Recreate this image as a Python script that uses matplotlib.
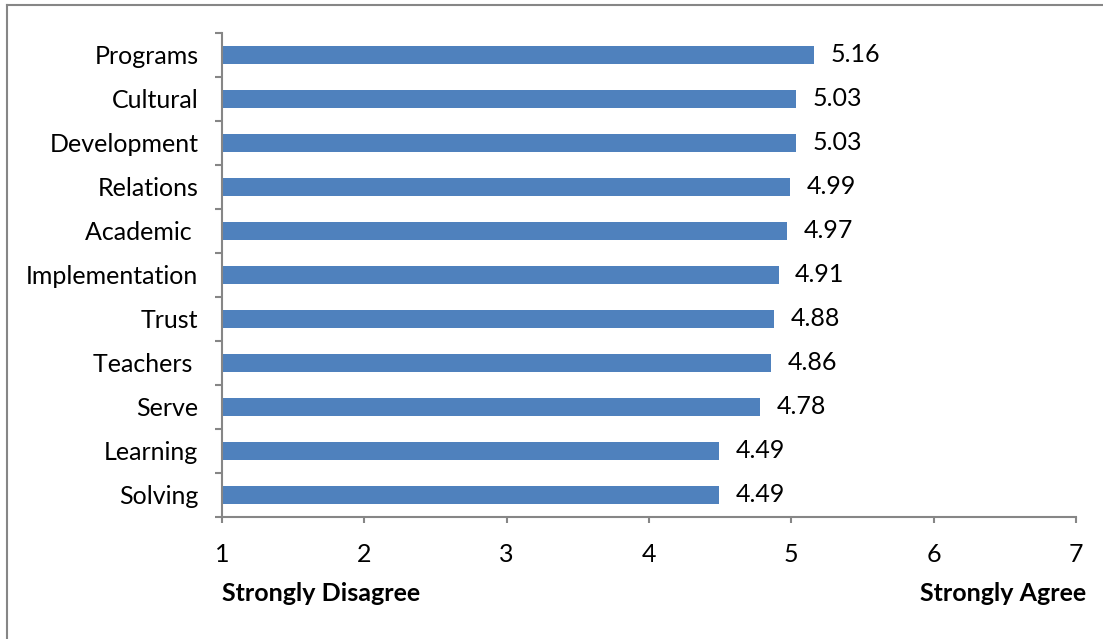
import matplotlib
matplotlib.use("Agg")
import matplotlib.pyplot as plt
from matplotlib.lines import Line2D

categories = ["Programs", "Cultural", "Development", "Relations", "Academic ",
              "Implementation", "Trust", "Teachers ", "Serve", "Learning", "Solving"]
values = [5.16, 5.03, 5.03, 4.99, 4.97, 4.91, 4.88, 4.86, 4.78, 4.49, 4.49]
value_labels = ["5.16", "5.03", "5.03", "4.99", "4.97", "4.91", "4.88", "4.86", "4.78", "4.49", "4.49"]
x_ticks = [1, 2, 3, 4, 5, 6, 7]
x_min_label = "Strongly Disagree"
x_max_label = "Strongly Agree"

plt.rcParams['font.family'] = ['Lato', 'DejaVu Sans']
W, H = 1103, 639
fs = 18
fig = plt.figure(figsize=(W / 100, H / 100), dpi=100)
ax = fig.add_axes([222 / W, 1 - 517 / H, (1076 - 222) / W, (517 - 33) / H])

n = len(categories)
ypos = list(range(n))
base = x_ticks[0]
ax.barh(ypos, [v - base for v in values], left=base, height=0.4, color="#4f81bd")
ax.set_ylim(n - 0.5, -0.5)
ax.set_xlim(x_ticks[0], x_ticks[-1])

gray = "#868686"
for s in ["top", "right"]:
    ax.spines[s].set_visible(False)
for s in ["left", "bottom"]:
    ax.spines[s].set_color(gray)
    ax.spines[s].set_linewidth(1.5)

ax.set_xticks(x_ticks)
ax.set_xticklabels([str(t) for t in x_ticks], fontsize=fs)
ax.tick_params(axis="x", direction="out", length=4.5, width=1.5, color=gray, pad=14)

ax.set_yticks([i - 0.5 for i in range(n + 1)], minor=False)
ax.set_yticklabels([])
ax.tick_params(axis="y", direction="out", length=5, width=1.5, color=gray)
ax.set_yticks(ypos, minor=True)
ax.set_yticklabels(categories, minor=True, fontsize=fs)
ax.tick_params(axis="y", which="minor", length=0, pad=17)

for y, v, lab in zip(ypos, values, value_labels):
    ax.annotate(lab, (v, y), xytext=(12, 0), textcoords="offset points",
                ha="left", va="center", fontsize=fs)

ax.annotate(x_min_label, (x_ticks[0], 0), xycoords=("data", "axes fraction"),
            xytext=(0, -55), textcoords="offset points", ha="left", va="center",
            fontsize=fs, fontweight="bold")
ax.annotate(x_max_label, (x_ticks[-1], 0), xycoords=("data", "axes fraction"),
            xytext=(7, -55), textcoords="offset points", ha="right", va="center",
            fontsize=fs, fontweight="bold")

# outer border (left and top)
fig.add_artist(Line2D([6.5 / W, 6.5 / W], [0, 1 - 4.5 / H], transform=fig.transFigure, color=gray, lw=1.5))
fig.add_artist(Line2D([6.5 / W, 1], [1 - 4.5 / H, 1 - 4.5 / H], transform=fig.transFigure, color=gray, lw=1.5))

fig.savefig("out.png", dpi=100)
